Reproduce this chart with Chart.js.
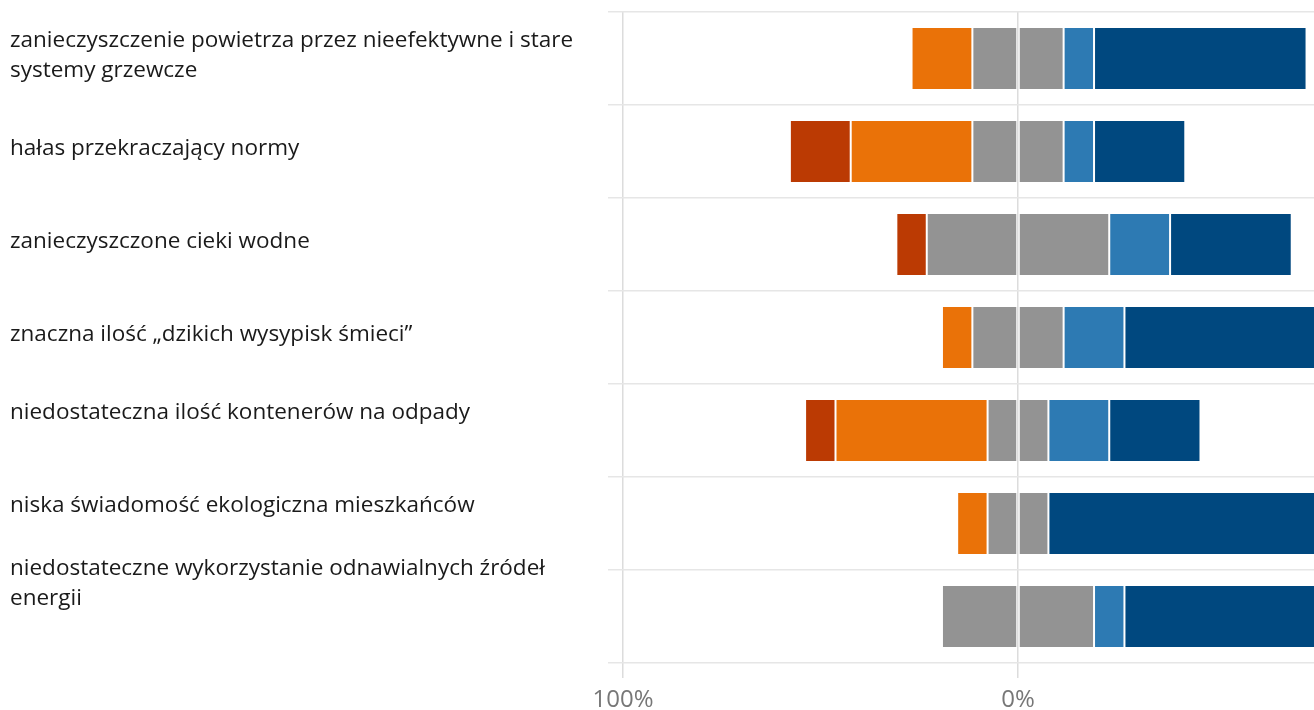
<!DOCTYPE html>
<html lang="pl">
<head>
<meta charset="utf-8">
<title>Problemy środowiskowe</title>
<script src="https://cdn.jsdelivr.net/npm/chart.js@4/dist/chart.umd.min.js"></script>
<style>
    html, body {
        margin: 0;
        padding: 0;
        background: #ffffff;
        overflow: hidden;
    }
    /* the chart is wider than the window, the right side is cut off like in the original */
    #wrap {
        position: relative;
        width: 1420px;
        height: 710px;
    }
</style>
</head>
<body>
<div id="wrap"><canvas id="likertChart"></canvas></div>
<script>
// ====================================
// DATA (percent of answers, n = 13)
// ====================================

// empty trailing lines only lift the label a bit, like in the original layout
const categories = [
    ['zanieczyszczenie powietrza przez nieefektywne i stare', 'systemy grzewcze'],
    'hałas przekraczający normy',
    'zanieczyszczone cieki wodne',
    'znaczna ilość „dzikich wysypisk śmieci”',
    ['niedostateczna ilość kontenerów na odpady', ''],
    ['niska świadomość ekologiczna mieszkańców', ''],
    ['niedostateczne wykorzystanie odnawialnych źródeł', 'energii', '', '']
];

const zdecydowanieNie = [0, 15.4, 7.7, 0, 7.7, 0, 0];
const raczejNie       = [15.4, 30.8, 0, 7.7, 38.5, 7.7, 0];
const trudnoPowiedziec = [23.1, 23.1, 46.2, 23.1, 15.4, 15.4, 38.5];
const raczejTak       = [7.7, 7.7, 15.4, 15.4, 15.4, 0, 7.7];
const zdecydowanieTak = [53.8, 23.1, 30.8, 53.8, 23.1, 76.9, 53.8];

const xTicks = [-100, 0, 100];

const colors = {
    zdecydowanieNie: '#bb3a03',
    raczejNie: '#ea7208',
    trudno: '#939393',
    raczejTak: '#2d7ab3',
    zdecydowanieTak: '#00487f'
};

// ====================================
// CHART
// ====================================

function makeSet(label, values, color) {
    return {
        label: label,
        data: values,
        backgroundColor: color,
        borderColor: 'rgba(255, 255, 255, 0.12)',
        borderWidth: 1,
        borderSkipped: false,
        stack: 'likert'
    };
}

// negative side: first dataset sits next to zero
const datasets = [
    makeSet('trudno powiedzieć', trudnoPowiedziec.map(v => -v / 2), colors.trudno),
    makeSet('raczej nie', raczejNie.map(v => -v), colors.raczejNie),
    makeSet('zdecydowanie nie', zdecydowanieNie.map(v => -v), colors.zdecydowanieNie),
    makeSet('trudno powiedzieć', trudnoPowiedziec.map(v => v / 2), colors.trudno),
    makeSet('raczej tak', raczejTak, colors.raczejTak),
    makeSet('zdecydowanie tak', zdecydowanieTak, colors.zdecydowanieTak)
];

const ctx = document.getElementById('likertChart');

new Chart(ctx, {
    type: 'bar',
    data: {
        labels: categories,
        datasets: datasets
    },
    options: {
        indexAxis: 'y',
        responsive: true,
        maintainAspectRatio: false,
        animation: false,
        barPercentage: 0.68,
        categoryPercentage: 1,
        layout: {
            padding: { left: 10, top: 12, right: 7, bottom: 0 }
        },
        plugins: {
            legend: { display: false },
            tooltip: { enabled: false }
        },
        scales: {
            x: {
                stacked: true,
                min: -100,
                max: 100,
                z: 1,
                border: { display: false },
                afterBuildTicks: function(scale) {
                    scale.ticks = xTicks.map(v => ({ value: v }));
                },
                afterFit: function(scale) {
                    scale.height = 47;
                    scale.paddingLeft = 0;
                    scale.paddingRight = 0;
                },
                ticks: {
                    color: '#777777',
                    padding: 8,
                    font: { family: '"Open Sans", sans-serif', size: 24 },
                    callback: function(value) {
                        return Math.abs(value) + '%';
                    }
                },
                grid: {
                    color: '#dcdcdc',
                    lineWidth: 1.5,
                    tickLength: 15
                }
            },
            y: {
                stacked: true,
                border: { display: false },
                afterFit: function(scale) {
                    scale.width = 613;
                    scale.paddingTop = 0;
                    scale.paddingBottom = 0;
                },
                ticks: {
                    autoSkip: false,
                    crossAlign: 'far',
                    labelOffset: -3,
                    color: '#1a1a1a',
                    font: { family: '"Open Sans", sans-serif', size: 22.5, lineHeight: '30px' }
                },
                grid: {
                    color: '#e6e6e6',
                    lineWidth: 1.5,
                    tickLength: 15
                }
            }
        }
    }
});
</script>
</body>
</html>
